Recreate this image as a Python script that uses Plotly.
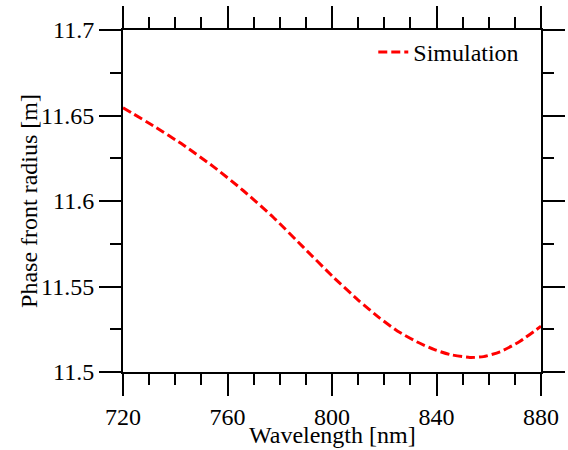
import plotly.graph_objects as go

wavelength_nm = [720, 731.6, 743.1, 754.6, 766.1, 777.5, 789, 800.5, 810, 818.4,
                 825, 832.4, 839, 845.2, 852.8, 858, 864.3, 872, 880]
radius_m = [11.6545, 11.6440, 11.6327, 11.6201, 11.6060, 11.5905, 11.5730, 11.5555, 11.5421,
            11.5314, 11.5240, 11.5177, 11.5132, 11.5102, 11.5085, 11.5090, 11.5118, 11.5180,
            11.5268]
series_name = "Simulation"
x_title = "Wavelength [nm]"
y_title = "Phase front radius [m]"

FONT = "Times New Roman"
FS = 24

fig = go.Figure()
fig.add_trace(go.Scatter(
    x=wavelength_nm, y=radius_m, mode="lines", name=series_name,
    line=dict(color="#ff0000", width=3, dash="9px,4px", shape="spline", smoothing=0.6),
))

axis_common = dict(
    showline=True, linecolor="black", linewidth=2, mirror="allticks",
    ticks="outside", ticklen=22, tickwidth=2, tickcolor="black",
    showgrid=False, zeroline=False, automargin=False,
    tickfont=dict(family=FONT, size=FS, color="black"),
)

fig.update_xaxes(
    range=[720, 880], dtick=40, tick0=720,
    minor=dict(dtick=10, ticklen=11, tickwidth=2, tickcolor="black", ticks="outside"),
    **axis_common,
)
fig.update_yaxes(
    range=[11.5, 11.7], dtick=0.05, tick0=11.5,
    minor=dict(dtick=0.025, ticklen=11, tickwidth=2, tickcolor="black", ticks="outside"),
    **axis_common,
)

fig.add_annotation(text=x_title, xref="paper", yref="paper", x=0.5, y=-0.225,
                   xanchor="center", yanchor="bottom", showarrow=False, borderpad=0,
                   font=dict(family=FONT, size=FS, color="black"))
fig.add_annotation(text=y_title, xref="paper", yref="paper", x=-0.225, y=0.5,
                   xanchor="center", yanchor="middle", textangle=-90, showarrow=False,
                   font=dict(family=FONT, size=FS, color="black"))

fig.update_layout(
    width=568, height=450,
    margin=dict(l=123, r=27, t=30, b=78),
    paper_bgcolor="white", plot_bgcolor="white",
    showlegend=True,
    font=dict(family=FONT, size=FS, color="black"),
    legend=dict(x=0.96, y=1.0, xanchor="right", yanchor="top",
                bgcolor="rgba(0,0,0,0)", font=dict(family=FONT, size=FS, color="black")),
)

fig.write_html("out.html")
